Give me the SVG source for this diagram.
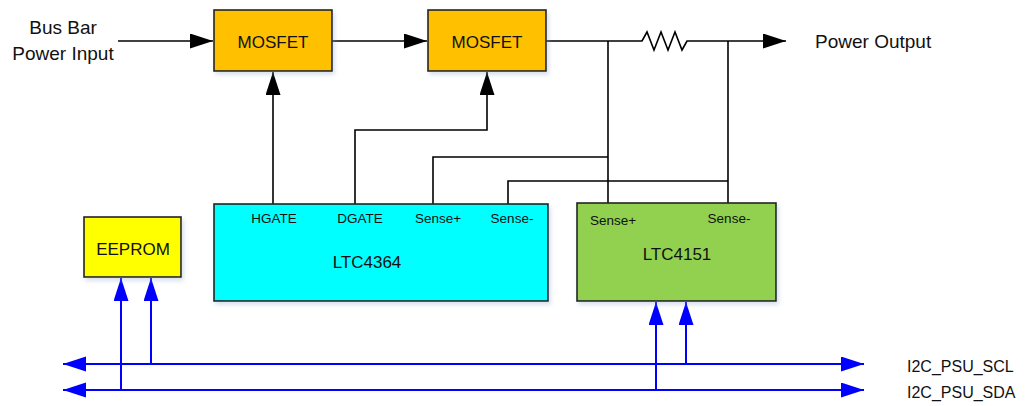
<svg xmlns="http://www.w3.org/2000/svg" width="1027" height="406" viewBox="0 0 1027 406">
<style>
.box{stroke:#222;stroke-width:1.6}
.t{font-family:"Liberation Sans",Arial,sans-serif;fill:#111}
.lbl{font-size:19px}
.pin{font-size:13.5px}
.bus{font-size:16px}
.nm{font-size:17px}
.w{fill:none;stroke:#000;stroke-width:1.6}
.b{fill:none;stroke:#0000ff;stroke-width:2}
</style>
<defs>
<filter id="sh" x="-10%" y="-10%" width="130%" height="130%">
<feDropShadow dx="2" dy="3" stdDeviation="2" flood-color="#8fa8d0" flood-opacity="0.35"/>
</filter>
<marker id="ak" markerUnits="userSpaceOnUse" markerWidth="24" markerHeight="16" refX="23" refY="7.5" orient="auto">
<path d="M0,0 L23,7.5 L0,15 Z" fill="#000"/>
</marker>
<marker id="ab" markerUnits="userSpaceOnUse" markerWidth="24" markerHeight="16" refX="23" refY="7.5" orient="auto-start-reverse">
<path d="M0,0 L23,7.5 L0,15 Z" fill="#0000ff"/>
</marker>
</defs>
<rect width="1027" height="406" fill="#fff"/>

<text class="t lbl" x="63" y="34" text-anchor="middle">Bus Bar</text>
<text class="t lbl" x="63" y="60" text-anchor="middle">Power Input</text>
<text class="t lbl" x="815" y="48">Power Output</text>
<text class="t bus" x="907" y="372">I2C_PSU_SCL</text>
<text class="t bus" x="907" y="398">I2C_PSU_SDA</text>

<g id="connectors">
<path class="w" d="M118,41 H213" marker-end="url(#ak)"/>
<path class="w" d="M332,41 H427" marker-end="url(#ak)"/>
<path class="w" d="M546,41 H642 L647,32 L654,50 L661,32 L668,50 L675,32 L682,50 L687,41 H786" marker-end="url(#ak)"/>
<path class="w" d="M273,204 V72" marker-end="url(#ak)"/>
<path class="w" d="M355,204 V130 H487 V72" marker-end="url(#ak)"/>
<path class="w" d="M433,204 V157 H608"/>
<path class="w" d="M508,204 V181 H728"/>
<path class="w" d="M608,41 V203"/>
<path class="w" d="M728,41 V203"/>
<path class="b" d="M63,364 H864" marker-start="url(#ab)" marker-end="url(#ab)"/>
<path class="b" d="M63,390 H864" marker-start="url(#ab)" marker-end="url(#ab)"/>
<path class="b" d="M121,390 V278" marker-end="url(#ab)"/>
<path class="b" d="M151,364 V278" marker-end="url(#ab)"/>
<path class="b" d="M656,390 V302" marker-end="url(#ab)"/>
<path class="b" d="M686,364 V302" marker-end="url(#ab)"/>
</g>

<g id="mosfet1">
<rect class="box" x="214" y="10" width="118" height="61" fill="#ffc000" filter="url(#sh)"/>
<text class="t nm" x="273" y="48" text-anchor="middle">MOSFET</text>
</g>
<g id="mosfet2">
<rect class="box" x="428" y="10" width="118" height="61" fill="#ffc000" filter="url(#sh)"/>
<text class="t nm" x="487" y="48" text-anchor="middle">MOSFET</text>
</g>
<g id="ltc4364">
<rect class="box" x="214" y="204" width="334" height="97" fill="#00ffff" filter="url(#sh)"/>
<text class="t pin" x="274" y="223" text-anchor="middle">HGATE</text>
<text class="t pin" x="360" y="223" text-anchor="middle">DGATE</text>
<text class="t pin" x="438" y="223" text-anchor="middle">Sense+</text>
<text class="t pin" x="512" y="223" text-anchor="middle">Sense-</text>
<text class="t nm" x="367" y="268" text-anchor="middle">LTC4364</text>
</g>
<g id="ltc4151">
<rect class="box" x="577" y="203" width="199" height="98" fill="#92d050" filter="url(#sh)"/>
<text class="t pin" x="613" y="225" text-anchor="middle">Sense+</text>
<text class="t pin" x="729" y="223" text-anchor="middle">Sense-</text>
<text class="t nm" x="677" y="260" text-anchor="middle">LTC4151</text>
</g>
<g id="eeprom">
<rect class="box" x="84" y="217" width="97" height="60" fill="#ffff00" filter="url(#sh)"/>
<text class="t nm" x="133" y="255" text-anchor="middle">EEPROM</text>
</g>
</svg>
